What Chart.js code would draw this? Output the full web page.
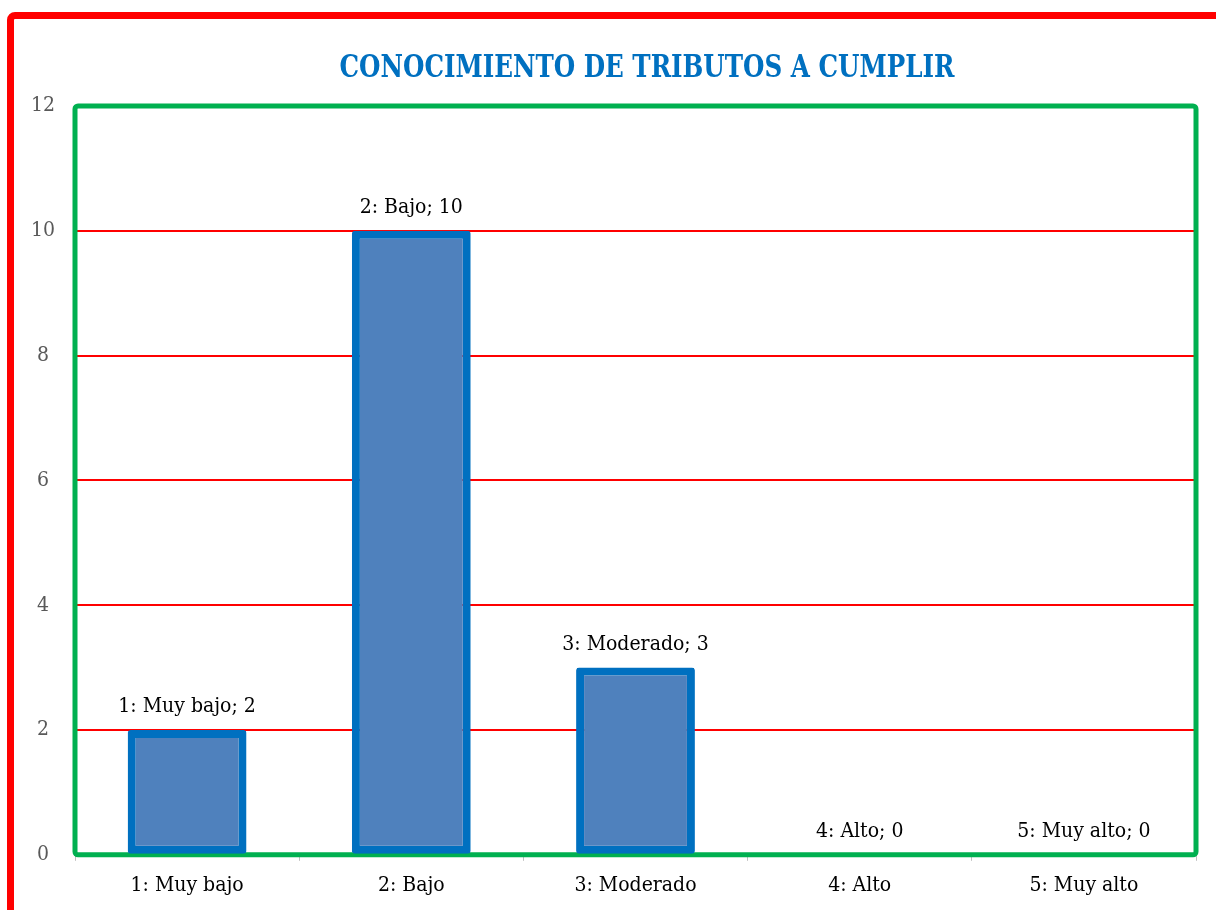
<!DOCTYPE html>
<html>
<head>
<meta charset="utf-8">
<script src="https://cdn.jsdelivr.net/npm/chart.js@4"></script>
<style>
  html, body { margin: 0; padding: 0; background: #fff; overflow: hidden; }
  #frame { position: absolute; left: 7px; top: 12px; width: 1300px; height: 1000px;
           border: 7px solid #FF0000; border-radius: 8px; box-sizing: border-box; }
  #wrap { position: absolute; left: 0; top: 0; width: 1216px; height: 910px; }
</style>
</head>
<body>
<div id="frame"></div>
<div id="wrap"><canvas id="tributosChart"></canvas></div>
<script>
const categories = ['1: Muy bajo', '2: Bajo', '3: Moderado', '4: Alto', '5: Muy alto'];
const values = [2, 10, 3, 0, 0];
const yTicks = [0, 2, 4, 6, 8, 10, 12];
const chartTitle = 'CONOCIMIENTO DE TRIBUTOS A CUMPLIR';

const serif = "'DejaVu Serif Condensed', 'DejaVu Serif', serif";

// green frame round the plot area
const plotFrame = {
    id: 'plotFrame',
    beforeDatasetsDraw: function(chart) {
        const a = chart.chartArea, ctx = chart.ctx;
        ctx.save();
        ctx.strokeStyle = '#00B050';
        ctx.lineWidth = 5;
        ctx.beginPath();
        ctx.roundRect(a.left, a.top, a.right - a.left, a.bottom - a.top, 3);
        ctx.stroke();
        ctx.restore();
    }
};

// title, squeezed a bit so it is as narrow as the original
const titleText = {
    id: 'titleText',
    afterDraw: function(chart) {
        const ctx = chart.ctx;
        ctx.save();
        ctx.font = 'bold 32px ' + serif;
        ctx.fillStyle = '#0070C0';
        ctx.textAlign = 'center';
        ctx.textBaseline = 'middle';
        const w = ctx.measureText(chartTitle).width;
        const sx = Math.min(1, 615 / w);
        ctx.translate(647, 69);
        ctx.scale(sx, 1);
        ctx.fillText(chartTitle, 0, 0);
        ctx.restore();
    }
};

// "category; value" labels above each bar
const barLabels = {
    id: 'barLabels',
    afterDatasetsDraw: function(chart) {
        const ctx = chart.ctx;
        const meta = chart.getDatasetMeta(0);
        ctx.save();
        ctx.font = '21px ' + serif;
        ctx.fillStyle = '#000';
        ctx.textAlign = 'center';
        ctx.textBaseline = 'bottom';
        meta.data.forEach(function(bar, i) {
            ctx.fillText(categories[i] + '; ' + values[i], bar.x, bar.y - 13);
        });
        ctx.restore();
    }
};

new Chart(document.getElementById('tributosChart'), {
    type: 'bar',
    data: {
        labels: categories,
        datasets: [{
            data: values,
            backgroundColor: '#4F81BD',
            borderColor: '#0070C0',
            borderWidth: 8,
            borderRadius: 3,
            borderSkipped: false,
            barPercentage: 0.53,
            categoryPercentage: 1
        }]
    },
    options: {
        responsive: true,
        maintainAspectRatio: false,
        animation: false,
        layout: { padding: { left: 0, right: 20, top: 106, bottom: 0 } },
        plugins: {
            legend: { display: false },
            tooltip: { enabled: false },
            title: { display: false }
        },
        scales: {
            x: {
                grid: { drawOnChartArea: false, drawTicks: true, tickLength: 6, color: '#BFBFBF' },
                border: { color: '#BFBFBF', width: 2 },
                ticks: { color: '#000', padding: 12, font: { family: serif, size: 21 } }
            },
            y: {
                min: 0,
                max: 12,
                afterBuildTicks: function(axis) { axis.ticks = yTicks.map(v => ({ value: v })); },
                afterFit: function(axis) { axis.width = 75; },
                grid: { color: '#FF0000', lineWidth: 2, drawTicks: false },
                border: { display: false },
                ticks: { color: '#595959', padding: 20, crossAlign: 'center', font: { family: serif, size: 21 } }
            }
        }
    },
    plugins: [plotFrame, barLabels, titleText]
});
</script>
</body>
</html>
